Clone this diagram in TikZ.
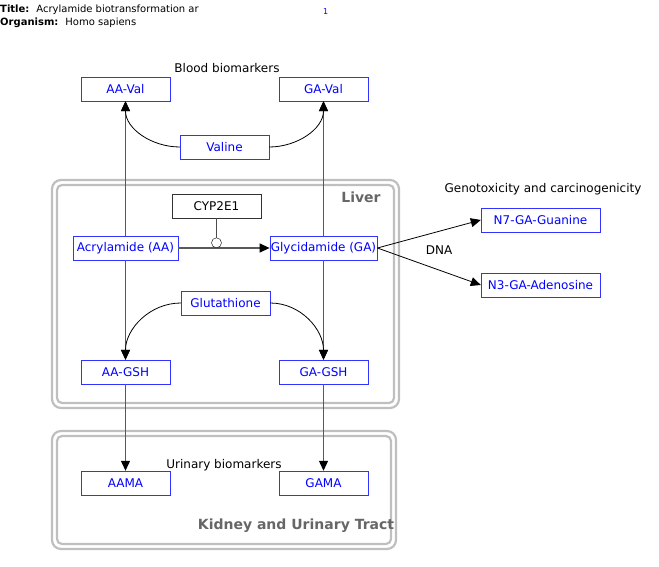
\documentclass[tikz,border=0pt]{standalone}
\usepackage{fontspec}
\setmainfont{DejaVu Sans}
\usetikzlibrary{arrows.meta, positioning, calc}
\tikzset{
    gene/.style={draw=blue!80, text=blue, minimum width=89pt, minimum height=24pt,
        inner sep=1pt, font=\fontsize{12}{14}\selectfont},
    enzyme/.style={draw=black!80, text=black, minimum width=89pt, minimum height=24pt,
        inner sep=1pt, font=\fontsize{12}{14}\selectfont},
    lbl/.style={font=\fontsize{12}{14}\selectfont, inner sep=1pt},
    zone/.style={draw=gray!50, line width=2.2pt},
    zonelbl/.style={text=black!60, font=\fontsize{14}{16}\selectfont\bfseries},
    conv/.style={-{Triangle[length=10pt,width=9pt,color=black]}, black!65, line width=1.2pt},
    bind/.style={-{Triangle[length=10pt,width=9pt]}, black, line width=0.8pt},
    hdr/.style={font=\fontsize{10}{12}\selectfont, anchor=west, inner sep=0pt},
}
\begin{document}
\begin{tikzpicture}[x=1pt, y=-1pt]
        \useasboundingbox (0,0) rectangle (659,567);

        % Kopfzeile
        \node[hdr] (title) at (0,10) {\textbf{Title:}\hspace{7pt}Acrylamide biotransformation ar};
        \node[hdr] (organism) at (0,23) {\textbf{Organism:}\hspace{7pt}Homo sapiens};
        \node[hdr, text=blue, font=\fontsize{8}{9}\selectfont] (page) at (323,12) {1};

        % Kompartimente
        \draw[zone, rounded corners=9pt] (52,180) rectangle (399,408);
        \draw[zone, rounded corners=5pt] (57,185) rectangle (394,403);
        \draw[zone, rounded corners=9pt] (52,431) rectangle (396,549);
        \draw[zone, rounded corners=5pt] (57,436) rectangle (391,544);
        \node[zonelbl] (liver) at (361,197) {Liver};
        \node[zonelbl] (kidney) at (296,526) {Kidney and Urinary Tract};

        % Knoten
        \node[gene] (AAVal) at (125.5,89) {AA-Val};
        \node[gene] (GAVal) at (323.5,89) {GA-Val};
        \node[gene] (Valine) at (224.5,147) {Valine};
        \node[enzyme] (CYP) at (216.5,206) {CYP2E1};
        \node[gene, minimum width=105pt] (AA) at (125.5,248) {Acrylamide (AA)};
        \node[gene, minimum width=105pt] (GA) at (323.5,248) {Glycidamide (GA)};
        \node[gene] (GSH) at (225.5,303) {Glutathione};
        \node[gene] (AAGSH) at (125.5,372) {AA-GSH};
        \node[gene] (GAGSH) at (323.5,372) {GA-GSH};
        \node[gene] (AAMA) at (125.5,483) {AAMA};
        \node[gene] (GAMA) at (323.5,483) {GAMA};
        \node[gene, minimum width=119pt] (N7) at (540.5,220) {N7-GA-Guanine};
        \node[gene, minimum width=119pt] (N3) at (540.5,285) {N3-GA-Adenosine};

        % Beschriftungen
        \node[lbl] (blood) at (227,68) {Blood biomarkers};
        \node[lbl] (geno) at (543,189) {Genotoxicity and carcinogenicity};
        \node[lbl] (dna) at (439,250) {DNA};
        \node[lbl] (urine) at (224,465) {Urinary biomarkers};

        % Umwandlungen
        \draw[conv] (AA) -- (AAVal);
        \draw[conv] (GA) -- (GAVal);
        \draw[conv] (AA) -- (AAGSH);
        \draw[conv] (GA) -- (GAGSH);
        \draw[conv] (AAGSH) -- (AAMA);
        \draw[conv] (GAGSH) -- (GAMA);
        \draw[conv] (AA) -- (GA);
        \draw[bind] (Valine.west) to[out=180, in=-90] (AAVal.south);
        \draw[bind] (Valine.east) to[out=0, in=-90] (GAVal.south);
        \draw[bind] (GSH.west) to[out=180, in=90] (AAGSH.north);
        \draw[bind] (GSH.east) to[out=0, in=90] (GAGSH.north);
        \draw[bind] (GA.east) -- (N7.west);
        \draw[bind] (GA.east) -- (N3.west);

        % Katalyse
        \coordinate (cat) at (CYP.south |- AA.center);
        \node[draw, circle, fill=white, inner sep=0pt, minimum size=10pt, anchor=south] (catc) at (cat) {};
        \draw[black!70] (CYP.south) -- (catc.north);
    \end{tikzpicture}
\end{document}
